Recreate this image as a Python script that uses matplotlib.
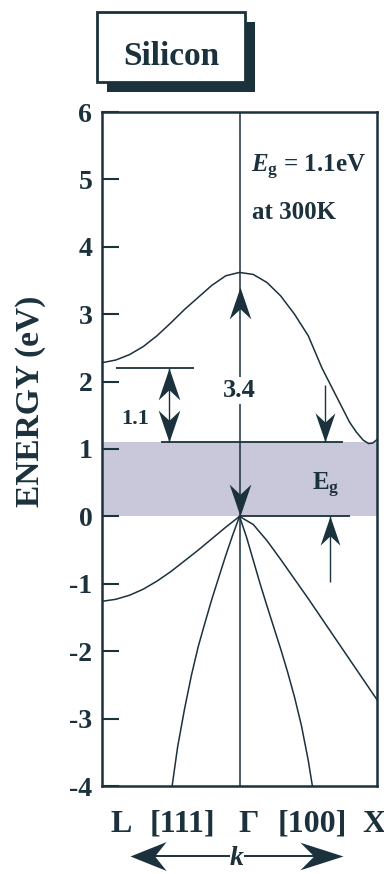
import numpy as np
import matplotlib.pyplot as plt
from matplotlib.path import Path
from matplotlib.patches import Rectangle

plt.rcParams['font.family'] = ['Liberation Serif', 'DejaVu Serif']
plt.rcParams['font.weight'] = 'bold'
plt.rcParams['axes.unicode_minus'] = False
plt.rcParams['mathtext.fontset'] = 'custom'
plt.rcParams['mathtext.rm'] = 'Liberation Serif:bold'
plt.rcParams['mathtext.it'] = 'Liberation Serif:italic:bold'
plt.rcParams['mathtext.bf'] = 'Liberation Serif:bold'

ink = '#1b313c'
shade = '#c9c7da'

# silicon bands along L <- Gamma -> X (k = 0 at Gamma, +-1 at the zone edges), energies in eV
k_cb = [-1.0, -0.9, -0.8, -0.7, -0.6, -0.5, -0.4, -0.3, -0.2, -0.1, 0.0,
        0.1, 0.2, 0.3, 0.4, 0.5, 0.6, 0.7, 0.8, 0.85, 0.9, 0.94, 0.97, 1.0]
e_cb = [2.28, 2.32, 2.40, 2.52, 2.68, 2.87, 3.07, 3.25, 3.43, 3.57, 3.62,
        3.59, 3.47, 3.27, 3.00, 2.68, 2.20, 1.80, 1.40, 1.25, 1.13, 1.08, 1.09, 1.14]

k_hh_l = [0.0, -0.1, -0.2, -0.3, -0.4, -0.5, -0.6, -0.7, -0.8, -0.9, -1.0]
e_hh_l = [0.0, -0.16, -0.33, -0.50, -0.66, -0.82, -0.96, -1.08, -1.17, -1.23, -1.26]

k_lh_l = [0.0, -0.05, -0.1, -0.15, -0.2, -0.25, -0.3, -0.35, -0.4, -0.45, -0.49]
e_lh_l = [0.0, -0.28, -0.58, -0.90, -1.22, -1.57, -1.93, -2.36, -2.86, -3.42, -4.0]

k_lh_r = [0.0, 0.05, 0.1, 0.15, 0.2, 0.25, 0.3, 0.35, 0.4, 0.45, 0.5, 0.53]
e_lh_r = [0.0, -0.30, -0.65, -1.0, -1.33, -1.65, -1.97, -2.31, -2.68, -3.10, -3.62, -4.0]

k_hh_r = [0.0, 0.1, 0.2, 0.3, 0.4, 0.5, 0.6, 0.7, 0.8, 0.9, 1.0]
e_hh_r = [0.0, -0.12, -0.36, -0.64, -0.93, -1.22, -1.52, -1.82, -2.12, -2.42, -2.72]

e_gap = 1.1
e_direct = 3.4
y_ticks = [-4, -3, -2, -1, 0, 1, 2, 3, 4, 5, 6]
k_names = ['L', '[111]', '\u0393', '[100]', 'X']

W, H = 384, 874
fig = plt.figure(figsize=(W / 100, H / 100), dpi=100)
ax = fig.add_axes([102 / W, 88 / H, 275 / W, 674 / H])
ax.set_xlim(-1, 1)
ax.set_ylim(-4, 6)


def head(a, x, y, d, size=46, half=0.34, **kw):
    # notched arrowhead with its tip at (x, y), pointing up/down/left/right
    v = np.array([[0, 0], [-half, -1], [0, -0.68], [half, -1], [0, 0]])
    if d == 'down':
        v = v * [1, -1]
    elif d == 'left':
        v = v[:, ::-1] * [-1, 1]
    elif d == 'right':
        v = v[:, ::-1]
    m = Path(v, [Path.MOVETO] + [Path.LINETO] * 3 + [Path.CLOSEPOLY])
    a.plot([x], [y], marker=m, ms=size, mew=0, color=ink, zorder=5, clip_on=False, **kw)


ax.axhspan(0, e_gap, color=shade, lw=0, zorder=0)
ax.axvline(0, color=ink, lw=1.1, zorder=2)

for k, e in [(k_cb, e_cb), (k_hh_l, e_hh_l), (k_lh_l, e_lh_l), (k_lh_r, e_lh_r), (k_hh_r, e_hh_r)]:
    ax.plot(k, e, color=ink, lw=1.1, zorder=3)

# reference levels for the gap arrows
ax.hlines(2 * e_gap, -0.9, -0.33, color=ink, lw=1.3)
ax.hlines(e_gap, -0.57, 0.75, color=ink, lw=1.3)
ax.hlines(0, 0, 0.8, color=ink, lw=1.3)

# 1.1 eV between the L valley and the band edge
ax.vlines(-0.51, e_gap, 2 * e_gap, color=ink, lw=1.0)
head(ax, -0.51, 2 * e_gap, 'up')
head(ax, -0.51, e_gap, 'down')
ax.text(-0.76, 1.45, '1.1', ha='center', va='center', fontsize=16, color=ink)

# direct gap at Gamma
head(ax, 0, e_direct, 'up')
head(ax, 0, 0, 'down')
ax.text(0, 1.87, '3.4', ha='center', va='center', fontsize=19, color=ink,
        bbox=dict(fc='white', ec='none', pad=1.5), zorder=4)

# indirect gap near X
ax.vlines(0.62, e_gap, 1.95, color=ink, lw=1.0)
head(ax, 0.62, e_gap, 'down', size=42)
ax.vlines(0.66, -0.97, 0, color=ink, lw=1.0)
head(ax, 0.66, 0, 'up', size=42)
ax.text(0.63, 0.46, r'$\mathbf{E_g}$', ha='center', va='center', fontsize=18, color=ink)

ax.text(0.085, 5.18, r'$E_\mathbf{g}$ = 1.1eV', ha='left', va='center', fontsize=18, color=ink)
ax.text(0.09, 4.51, 'at 300K', ha='left', va='center', fontsize=18, color=ink)

ax.set_yticks(y_ticks)
ax.set_xticks([])
ax.tick_params(axis='y', direction='in', length=12, width=1.5, labelsize=20, pad=7,
               color=ink, labelcolor=ink)
for s in ax.spines.values():
    s.set_linewidth(1.8)
    s.set_color(ink)

# page overlay in pixel units for the title box and the k-axis captions
ov = fig.add_axes([0, 0, 1, 1], zorder=-1)
ov.set_xlim(0, W)
ov.set_ylim(H, 0)
ov.axis('off')

ov.add_patch(Rectangle((107, 22), 148, 70, fc=ink, ec='none'))
ov.add_patch(Rectangle((97, 12), 148, 70, fc='white', ec=ink, lw=2))
ov.text(171, 65, 'Silicon', ha='center', va='baseline', fontsize=24, color=ink)

fig.text(31 / W, 1 - 401 / H, 'ENERGY (eV)', rotation=90, ha='center', va='center',
         fontsize=24, color=ink)

for name, x, ha in zip(k_names, [121, 182, 249, 312, 362], ['center'] * 4 + ['left']):
    ov.text(x, 832, name, ha=ha, va='baseline', fontsize=23, color=ink)

ov.plot([150, 320], [856, 856], color=ink, lw=1.4)
head(ov, 130, 856, 'left', size=52, half=0.4)
head(ov, 343, 856, 'right', size=62, half=0.32)
ov.text(237, 865, 'k', style='italic', ha='center', va='baseline', fontsize=20, color=ink,
        bbox=dict(fc='white', ec='none', pad=0.3))

fig.savefig('out.png', dpi=100, facecolor='white')
